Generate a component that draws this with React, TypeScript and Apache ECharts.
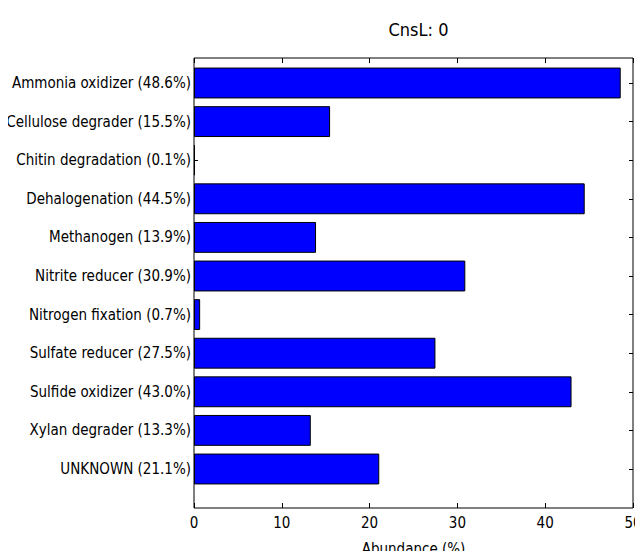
import React, { useEffect, useRef } from "react";
import * as echarts from "echarts";

const categories = [
  "Ammonia oxidizer (48.6%)",
  "Cellulose degrader (15.5%)",
  "Chitin degradation (0.1%)",
  "Dehalogenation (44.5%)",
  "Methanogen (13.9%)",
  "Nitrite reducer (30.9%)",
  "Nitrogen fixation (0.7%)",
  "Sulfate reducer (27.5%)",
  "Sulfide oxidizer (43.0%)",
  "Xylan degrader (13.3%)",
  "UNKNOWN (21.1%)",
];
const values = [48.6, 15.5, 0.1, 44.5, 13.9, 30.9, 0.7, 27.5, 43.0, 13.3, 21.1];
const xTicks = [0, 10, 20, 30, 40, 50];

const FONT = "'DejaVu Sans Condensed', 'DejaVu Sans', sans-serif";

export default function App() {
  const ref = useRef<HTMLDivElement>(null);
  useEffect(() => {
    if (!ref.current) return;
    const chart = echarts.init(ref.current, null, { renderer: "svg" });
    const L = 194, W = 439, T = 58, H = 450;
    const band = 38.6;
    const barsTop = 83 - band / 2;
    chart.setOption({
      animation: false,
      title: {
        text: "CnsL: 0",
        left: L + W / 2,
        textAlign: "center",
        top: 15,
        textStyle: { fontFamily: FONT, fontSize: 18, fontWeight: "normal", color: "#000" },
      },
      grid: [
        { left: L, top: T, width: W, height: H, show: true, borderColor: "#000", borderWidth: 1, backgroundColor: "transparent", outerBoundsMode: "none", containLabel: false },
        { left: L, top: barsTop, width: W, height: band * categories.length, outerBoundsMode: "none", containLabel: false },
      ],
      xAxis: [
        {
          type: "value", gridIndex: 0, min: xTicks[0], max: xTicks[xTicks.length - 1], interval: 10,
          position: "bottom",
          axisLine: { show: false },
          axisTick: { show: true, inside: true, length: 5, lineStyle: { color: "#000" } },
          axisLabel: { fontFamily: FONT, fontSize: 15, color: "#000", margin: 7 },
          splitLine: { show: false },
          name: "Abundance (%)", nameLocation: "middle", nameGap: 33,
          nameTextStyle: { fontFamily: FONT, fontSize: 15, color: "#000" },
        },
        {
          type: "value", gridIndex: 0, min: 0, max: 50, interval: 10, position: "top",
          axisLine: { show: false },
          axisTick: { show: true, inside: true, length: 5, lineStyle: { color: "#000" } },
          axisLabel: { show: false }, splitLine: { show: false },
        },
        {
          type: "value", gridIndex: 1, min: 0, max: 50, show: false,
        },
      ],
      yAxis: [
        { type: "value", gridIndex: 0, show: false },
        {
          type: "category", gridIndex: 1, data: categories, inverse: true, position: "left",
          axisLine: { show: false },
          axisTick: { show: true, inside: true, alignWithLabel: true, length: 4, lineStyle: { color: "#000" } },
          axisLabel: { fontFamily: FONT, fontSize: 15, color: "#000", margin: 3 },
        },
        {
          type: "category", gridIndex: 1, data: categories, inverse: true, position: "right",
          axisLine: { show: false },
          axisTick: { show: true, inside: true, alignWithLabel: true, length: 4, lineStyle: { color: "#000" } },
          axisLabel: { show: false },
        },
      ],
      series: [
        {
          type: "bar", xAxisIndex: 2, yAxisIndex: 1, data: values, barWidth: band * 0.8,
          itemStyle: { color: "#0000ff", borderColor: "#000", borderWidth: 1 },
        },
      ],
    });
    return () => chart.dispose();
  }, []);
  return <div ref={ref} style={{ width: 643, height: 559, margin: -8 }} />;
}
